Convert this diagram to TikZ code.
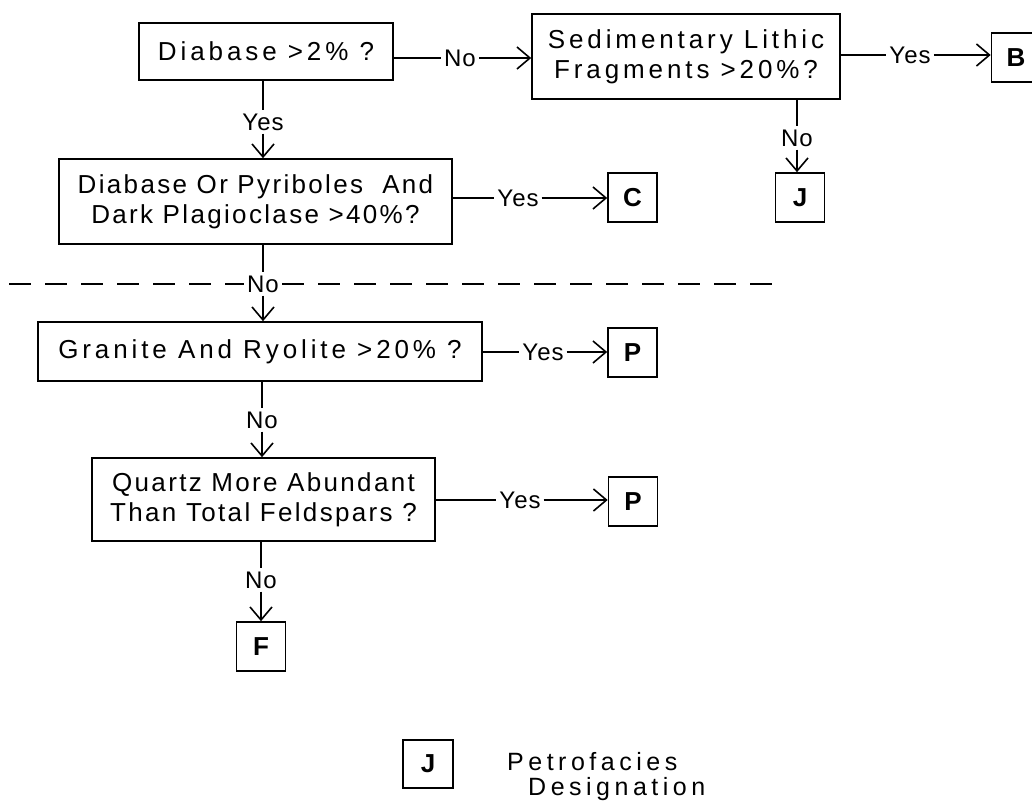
\documentclass[tikz,border=0pt]{standalone}
\usepackage{fontspec}
\setmainfont{Liberation Sans}[LetterSpace=15]
\usetikzlibrary{arrows.meta}
\tikzset{
  qbox/.style={draw, line width=1.6pt, inner sep=0pt, align=center,
    font=\fontsize{26}{30}\selectfont},
  tight/.style={font=\fontsize{26}{30}\selectfont\addfontfeatures{LetterSpace=9}},
  lbox/.style={draw, line width=1.6pt, inner sep=0pt, minimum width=49pt, minimum height=49pt,
    font=\fontsize{26}{30}\selectfont\bfseries},
  lbl/.style={inner sep=3pt, text height=17pt, text depth=0pt,
    font=\fontsize{24}{28}\selectfont\addfontfeatures{LetterSpace=4}},
  conn/.style={line width=1.6pt},
  arr/.style={line width=1.6pt, -{Straight Barb[length=13pt,width=22pt,line width=1.6pt]}},
  dline/.style={line width=1.8pt, dash pattern=on 22pt off 14pt},
  legtext/.style={inner sep=0pt, anchor=west, text height=18pt, text depth=0pt,
    font=\fontsize{25}{30}\selectfont\addfontfeatures{LetterSpace=18}}
}
\begin{document}
\begin{tikzpicture}[x=1pt,y=-1pt]
\clip (0,0) rectangle (1032,800);
\fill[white] (0,0) rectangle (1032,800);

% question boxes
\node[qbox, minimum width=254pt, minimum height=57pt] (q1) at (266,51.5) {Diabase >2\% ?};
\node[qbox, minimum width=308pt, minimum height=85pt] (q2) at (686,56.5) {Sedimentary Lithic\\Fragments >20\%?};
\node[qbox, tight, minimum width=393pt, minimum height=85pt] (q3) at (255.5,201.5) {Diabase Or Pyriboles\ \ And\\Dark Plagioclase >40\%?};
\node[qbox, minimum width=444pt, minimum height=59pt] (q4) at (260,351.5) {Granite And Ryolite >20\% ?};
\node[qbox, tight, minimum width=343pt, minimum height=83pt] (q5) at (263.5,499.5) {Quartz More Abundant\\Than Total Feldspars ?};

% designation boxes
\node[lbox] (B) at (1016,57.5) {B};
\node[lbox] (J1) at (800,197.5) {J};
\node[lbox] (C) at (632.5,197.5) {C};
\node[lbox] (P1) at (632.5,352.5) {P};
\node[lbox] (P2) at (633,501.5) {P};
\node[lbox] (F) at (261,646.5) {F};

% labels
\node[lbl] (n1) at (460,58) {No};
\node[lbl] (y1) at (910,55) {Yes};
\node[lbl] (y2) at (263,122) {Yes};
\node[lbl] (n2) at (797,138) {No};
\node[lbl] (y3) at (518,198) {Yes};
\node[lbl] (n3) at (263,284) {No};
\node[lbl] (y4) at (543,352) {Yes};
\node[lbl] (n4) at (262,420) {No};
\node[lbl] (y5) at (520,500) {Yes};
\node[lbl] (n5) at (261,580) {No};

% connectors
\draw[conn] (n1 -| q1.east) -- (n1.west);
\draw[arr] (n1.east) -- (n1 -| q2.west);
\draw[conn] (y1 -| q2.east) -- (y1.west);
\draw[arr] (y1.east) -- (y1 -| B.west);
\draw[conn] (y2 |- q1.south) -- (y2.north);
\draw[arr] (y2.south) -- (y2 |- q3.north);
\draw[conn] (n2 |- q2.south) -- (n2.north);
\draw[arr] (n2.south) -- (n2 |- J1.north);
\draw[conn] (y3 -| q3.east) -- (y3.west);
\draw[arr] (y3.east) -- (y3 -| C.west);
\draw[conn] (n3 |- q3.south) -- (n3.north);
\draw[arr] (n3.south) -- (n3 |- q4.north);
\draw[conn] (y4 -| q4.east) -- (y4.west);
\draw[arr] (y4.east) -- (y4 -| P1.west);
\draw[conn] (n4 |- q4.south) -- (n4.north);
\draw[arr] (n4.south) -- (n4 |- q5.north);
\draw[conn] (y5 -| q5.east) -- (y5.west);
\draw[arr] (y5.east) -- (y5 -| P2.west);
\draw[conn] (n5 |- q5.south) -- (n5.north);
\draw[arr] (n5.south) -- (n5 |- F.north);

% dashed divider
\coordinate (dl) at (9,284);
\coordinate (dr) at (780,284);
\draw[dline] (dl) -- (n3.west);
\draw[dline] (n3.east) -- (dr);

% legend
\node[lbox, minimum width=50pt, minimum height=48pt] (JL) at (428,764) {J};
\node[legtext] (leg1) at (507,761) {Petrofacies};
\node[legtext] (leg2) at (528,786) {Designation};
\end{tikzpicture}
\end{document}
